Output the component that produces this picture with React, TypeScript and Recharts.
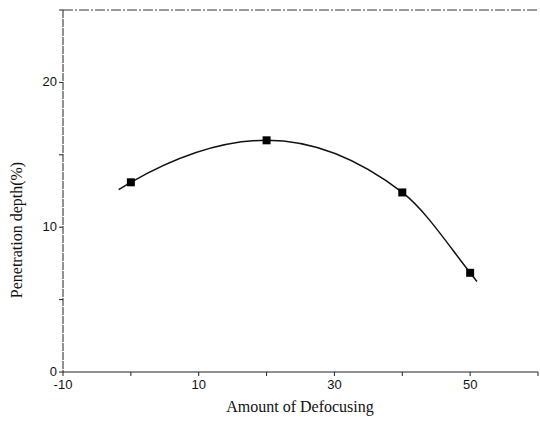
import React from "react";
import { ComposedChart, Line, Scatter, XAxis, YAxis } from "recharts";

// measured points
const defocus = [0, 20, 40, 50];
const depth = [13.1, 16.0, 12.4, 6.85];

// fitted curve runs a bit past the end markers
const curveX = [-1.8, 0, 20, 40, 50, 51];
const curveY = [12.6, 13.1, 16.0, 12.4, 6.85, 6.25];

const xTicks = [-10, 0, 10, 20, 30, 40, 50, 60];
const xLabels = [-10, 10, 30, 50];
const yTicks = [0, 5, 10, 15, 20, 25];
const yLabels = [0, 10, 20];

const points = defocus.map((x, i) => ({ x, y: depth[i] }));
const curve = curveX.map((x, i) => ({ x, y: curveY[i] }));

const tickFont = { fontFamily: "Liberation Sans, Arial, sans-serif", fontSize: 13, fill: "#111" };
const labelFont = "Liberation Serif, Times New Roman, serif";

export default function App() {
  return (
    <div style={{ position: "absolute", left: 0, top: 0, background: "#fff" }}>
      <ComposedChart width={540} height={421} margin={{ top: 9, right: 2, bottom: 0, left: 0 }}>
        <XAxis
          dataKey="x"
          type="number"
          domain={[-10, 60]}
          ticks={xTicks}
          tickFormatter={(v) => (xLabels.includes(v) ? String(v) : "")}
          height={49}
          tickSize={4}
          tick={{ ...tickFont, dy: 2 }}
          stroke="#222"
          allowDuplicatedCategory={false}
          label={{
            content: () => (
              <text x={300} y={412} textAnchor="middle" fontFamily={labelFont} fontSize={16} fill="#111">
                Amount of Defocusing
              </text>
            ),
          }}
        />
        <XAxis
          xAxisId="top"
          orientation="top"
          type="number"
          domain={[-10, 60]}
          tick={false}
          tickLine={false}
          height={1}
          stroke="#333"
          strokeDasharray="10 2 2 2"
        />
        <YAxis
          dataKey="y"
          type="number"
          domain={[0, 25]}
          ticks={yTicks}
          tickFormatter={(v) => (yLabels.includes(v) ? String(v) : "")}
          width={63}
          tickSize={4}
          tick={{ ...tickFont, dy: -1 }}
          stroke="#222"
          strokeDasharray="8 1"
          label={{
            content: () => (
              <text
                x={22}
                y={230}
                textAnchor="middle"
                transform="rotate(-90 22 230)"
                fontFamily={labelFont}
                fontSize={16}
                fill="#111"
              >
                Penetration depth(%)
              </text>
            ),
          }}
        />
        <Line
          data={curve}
          dataKey="y"
          type="monotone"
          stroke="#111"
          strokeWidth={1.5}
          dot={false}
          isAnimationActive={false}
        />
        <Scatter data={points} dataKey="y" fill="#000" shape="square" isAnimationActive={false} />
      </ComposedChart>
    </div>
  );
}
